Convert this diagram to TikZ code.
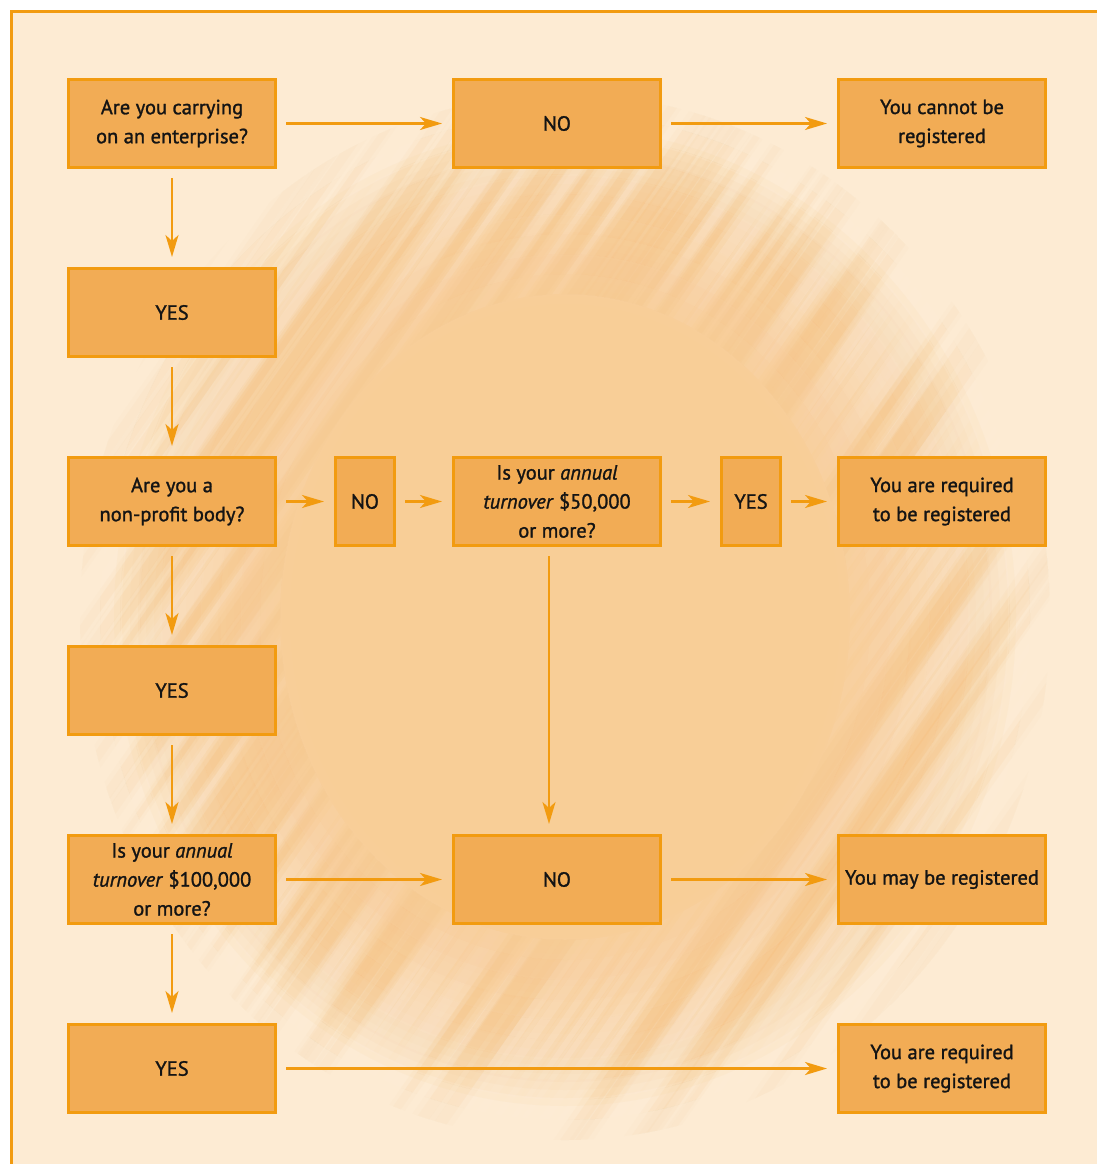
\documentclass[tikz,border=0pt]{standalone}
\usepackage{fontspec}
\setmainfont{PT Sans}[FakeBold=1.3]
\usetikzlibrary{arrows.meta}
\definecolor{bgc}{RGB}{253,235,211}
\definecolor{sunc}{RGB}{248,206,151}
\definecolor{streaklight}{RGB}{254,238,225}
\definecolor{streakdark}{RGB}{246,188,118}
\definecolor{boxfill}{RGB}{242,172,85}
\definecolor{boxline}{RGB}{242,155,16}
\definecolor{txt}{RGB}{20,20,20}
\newcommand\mystreaks[1]{%
  \pgfmathsetseed{4242}%
  \foreach \i in {0,...,95}{%
    \pgfmathsetmacro\tt{-670+14*\i+6*rnd}%
    \pgfmathsetmacro\ww{5+7*rnd}%
    \pgfmathsetmacro\rr{rnd}%
    \ifdim\rr pt<0.5pt \def\sc{streaklight}\def\fo{0.85}\else\def\sc{streakdark}\def\fo{1}\fi
    \draw[line width=2*\ww pt, draw=\sc, opacity=0.3*#1*\fo] (-900,\tt) -- (900,\tt);
    \draw[line width=\ww pt, draw=\sc, opacity=0.6*#1*\fo] (-900,\tt) -- (900,\tt);
  }}
\tikzset{
  flowbox/.style={draw=boxline, fill=boxfill, line width=3pt, minimum width=207pt, minimum height=88pt, inner sep=0pt, align=center, text=txt, font=\fontsize{20.5}{29}\selectfont},
  smallbox/.style={flowbox, minimum width=59pt},
  flow/.style={draw=boxline, line width=2.5pt, -{Stealth[length=22pt,width=13pt,inset=6pt]}, shorten <=9pt, shorten >=10pt}
}
\begin{document}
\begin{tikzpicture}[x=1pt,y=-1pt]
\useasboundingbox (0,0) rectangle (1097,1164);
\clip (0,0) rectangle (1097,1164);
\fill[white] (0,0) rectangle (1097,1164);
\begin{scope}
\clip (11.5,11.5) rectangle (1110,1180);
\fill[bgc] (11.5,11.5) rectangle (1110,1180);
\foreach \d in {-60,-52,...,156}
  \fill[sunc, opacity=0.1] (565,617) ellipse ({295+\d} and {333+\d});
\fill[sunc] (565,617) ellipse (255 and 293);
\foreach \k in {0,...,9}{
  \pgfmathsetmacro\ri{-10+20*\k}
  \pgfmathsetmacro\ro{\ri+20}
  \pgfmathsetmacro\op{0.42*max(0.05,1-abs(\ri+10-85)/120)}
  \begin{scope}[even odd rule]
    \clip (565,617) ellipse ({295+\ro} and {333+\ro}) (565,617) ellipse ({295+\ri} and {333+\ri});
    \begin{scope}[shift={(565,617)}, rotate=55]
      \mystreaks{\op}
    \end{scope}
  \end{scope}
}
\end{scope}
\draw[boxline, line width=3pt] (11.5,1180) -- (11.5,11.5) -- (1110,11.5);

\node[flowbox] (a1) at (172,123.5) {Are you carrying\\on an enterprise?};
\node[flowbox] (no1) at (557,123.5) {NO};
\node[flowbox] (cannot) at (942,123.5) {You cannot be\\registered};
\node[flowbox] (yes1) at (172,312.5) {YES};
\node[flowbox] (a2) at (172,501.5) {Are you a\\non-profit body?};
\node[smallbox] (no2) at (365,501.5) {NO};
\node[flowbox] (q50) at (557,501.5) {Is your \textit{annual}\\\textit{turnover} \$50,000\\or more?};
\node[smallbox] (yes2) at (751,501.5) {YES};
\node[flowbox] (req1) at (942,501.5) {You are required\\to be registered};
\node[flowbox] (yes3) at (172,690.5) {YES};
\node[flowbox] (q100) at (172,879.5) {Is your \textit{annual}\\\textit{turnover} \$100,000\\or more?};
\node[flowbox] (no3) at (557,879.5) {NO};
\node[flowbox] (may) at (942,879.5) {You may be registered};
\node[flowbox] (yes4) at (172,1068.5) {YES};
\node[flowbox] (req2) at (942,1068.5) {You are required\\to be registered};

\draw[flow] (a1) -- (no1);
\draw[flow] (no1) -- (cannot);
\draw[flow] (a1) -- (yes1);
\draw[flow] (yes1) -- (a2);
\draw[flow] (a2) -- (no2);
\draw[flow] (no2) -- (q50);
\draw[flow] (q50) -- (yes2);
\draw[flow] (yes2) -- (req1);
\draw[flow] (a2) -- (yes3);
\draw[flow] (yes3) -- (q100);
\draw[flow] ([xshift=-8pt]q50.south) -- ([xshift=-8pt]no3.north);
\draw[flow] (q100) -- (no3);
\draw[flow] (no3) -- (may);
\draw[flow] (q100) -- (yes4);
\draw[flow] (yes4) -- (req2);
\end{tikzpicture}
\end{document}
